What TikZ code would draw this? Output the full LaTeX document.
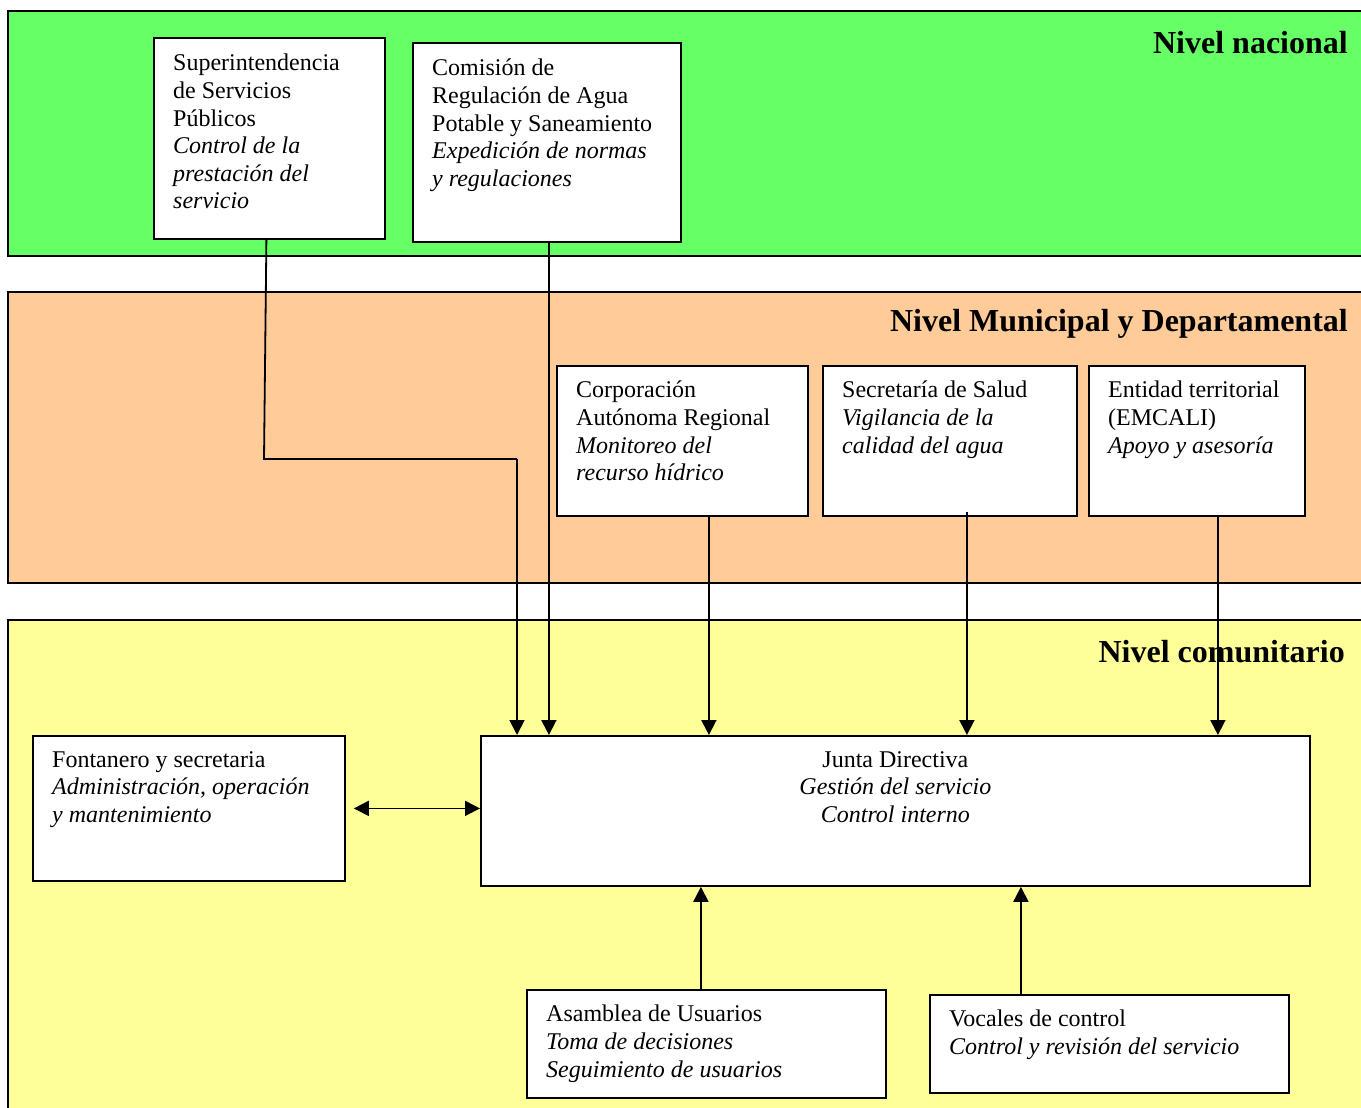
\documentclass[tikz,border=0pt]{standalone}
\usepackage{fontspec}
\setmainfont{Liberation Serif}
\usetikzlibrary{arrows.meta,calc}
\definecolor{bandgreen}{HTML}{66FF66}
\definecolor{bandorange}{HTML}{FFCC99}
\definecolor{bandyellow}{HTML}{FFFF99}
\begin{document}
\begin{tikzpicture}[x=1pt,y=-1pt,
  band/.style={draw=black,line width=1.8pt},
  box/.style={draw=black,fill=white,line width=1.8pt,anchor=north west,inner sep=0pt},
  txt/.style={anchor=north west,inner sep=0pt,align=left,font=\fontsize{24}{27.6}\selectfont},
  ctxt/.style={anchor=north,inner sep=0pt,align=center,font=\fontsize{24}{27.6}\selectfont},
  head/.style={anchor=east,inner sep=0pt,font=\fontsize{32}{36}\selectfont\bfseries},
  tip/.style={},
  arr/.style={line width=1.8pt,-{Triangle[length=15pt,width=15pt]}},
  darr/.style={line width=1.8pt,{Triangle[length=15pt,width=15pt]}-{Triangle[length=15pt,width=15pt]}},
  link/.style={line width=1.8pt}]
\useasboundingbox (0,0) rectangle (1361,1108);
% bands
\fill[white] (0,0) rectangle (1361,1108);
\draw[band,fill=bandgreen] (8,11) rectangle (1380,256);
\draw[band,fill=bandorange] (8,292) rectangle (1380,583);
\draw[band,fill=bandyellow] (8,620) rectangle (1380,1130);
\node[head] (hn) at (1348,43) {Nivel nacional};
\node[head] (hm) at (1348,324) {Nivel Municipal y Departamental};
\node[head] (hc) at (1345,652) {Nivel comunitario};
% boxes
\node[box,minimum width=231pt,minimum height=201pt] (sup) at (153,37) {};
\node[txt] (supt) at ($(sup.north west)+(20,17)$) {Superintendencia\\de Servicios\\Públicos\\\textit{Control de la}\\\textit{prestación del}\\\textit{servicio}};
\node[box,minimum width=268pt,minimum height=199pt] (com) at (412,42) {};
\node[txt] (comt) at ($(com.north west)+(20,17)$) {Comisión de\\Regulación de Agua\\Potable y Saneamiento\\\textit{Expedición de normas}\\\textit{y regulaciones}};
\node[box,minimum width=251pt,minimum height=150pt] (corp) at (556,365) {};
\node[txt] (corpt) at ($(corp.north west)+(20,16)$) {Corporación\\Autónoma Regional\\\textit{Monitoreo del}\\\textit{recurso hídrico}};
\node[box,minimum width=254pt,minimum height=150pt] (sec) at (822,365) {};
\node[txt] (sect) at ($(sec.north west)+(20,16)$) {Secretaría de Salud\\\textit{Vigilancia de la}\\\textit{calidad del agua}};
\node[box,minimum width=216pt,minimum height=150pt] (ent) at (1088,365) {};
\node[txt] (entt) at ($(ent.north west)+(20,16)$) {Entidad territorial\\(EMCALI)\\\textit{Apoyo y asesoría}};
\node[box,minimum width=312pt,minimum height=145pt] (fon) at (32,735) {};
\node[txt] (font) at ($(fon.north west)+(20,16)$) {Fontanero y secretaria\\\textit{Administración, operación}\\\textit{y mantenimiento}};
\node[box,minimum width=829pt,minimum height=150pt] (jun) at (480,735) {};
\node[ctxt] (junt) at ($(jun.north)+(0,16)$) {Junta Directiva\\\textit{Gestión del servicio}\\\textit{Control interno}};
\node[box,minimum width=359pt,minimum height=108pt] (asa) at (526,989) {};
\node[txt] (asat) at ($(asa.north west)+(20,16)$) {Asamblea de Usuarios\\\textit{Toma de decisiones}\\\textit{Seguimiento de usuarios}};
\node[box,minimum width=359pt,minimum height=98pt] (voc) at (929,994) {};
\node[txt] (voct) at ($(voc.north west)+(20,16)$) {Vocales de control\\\textit{Control y revisión del servicio}};
% connectors
\coordinate (k1) at (264,459);
\coordinate (k2) at (517,459);
\draw[link] ([xshift=-3pt]sup.south) -- (k1) -- (k2);
\draw[arr] (k2) -- (k2 |- jun.north);
\draw[arr] ([xshift=2pt]com.south) -- ([xshift=2pt]com.south |- jun.north);
\draw[arr] ([xshift=26.5pt]corp.south) -- ([xshift=26.5pt]corp.south |- jun.north);
\draw[arr] ([xshift=17pt,yshift=5pt]sec.south) -- ([xshift=17pt]sec.south |- jun.north);
\draw[arr] ([xshift=21pt]ent.south) -- ([xshift=21pt]ent.south |- jun.north);
\draw[darr] ([xshift=8pt]fon.east) -- (fon.east -| jun.west);
\draw[arr] ([xshift=-5.5pt]asa.north) -- ([xshift=-5.5pt]asa.north |- jun.south);
\draw[arr] ([xshift=-88.5pt]voc.north) -- ([xshift=-88.5pt]voc.north |- jun.south);
\end{tikzpicture}
\end{document}
